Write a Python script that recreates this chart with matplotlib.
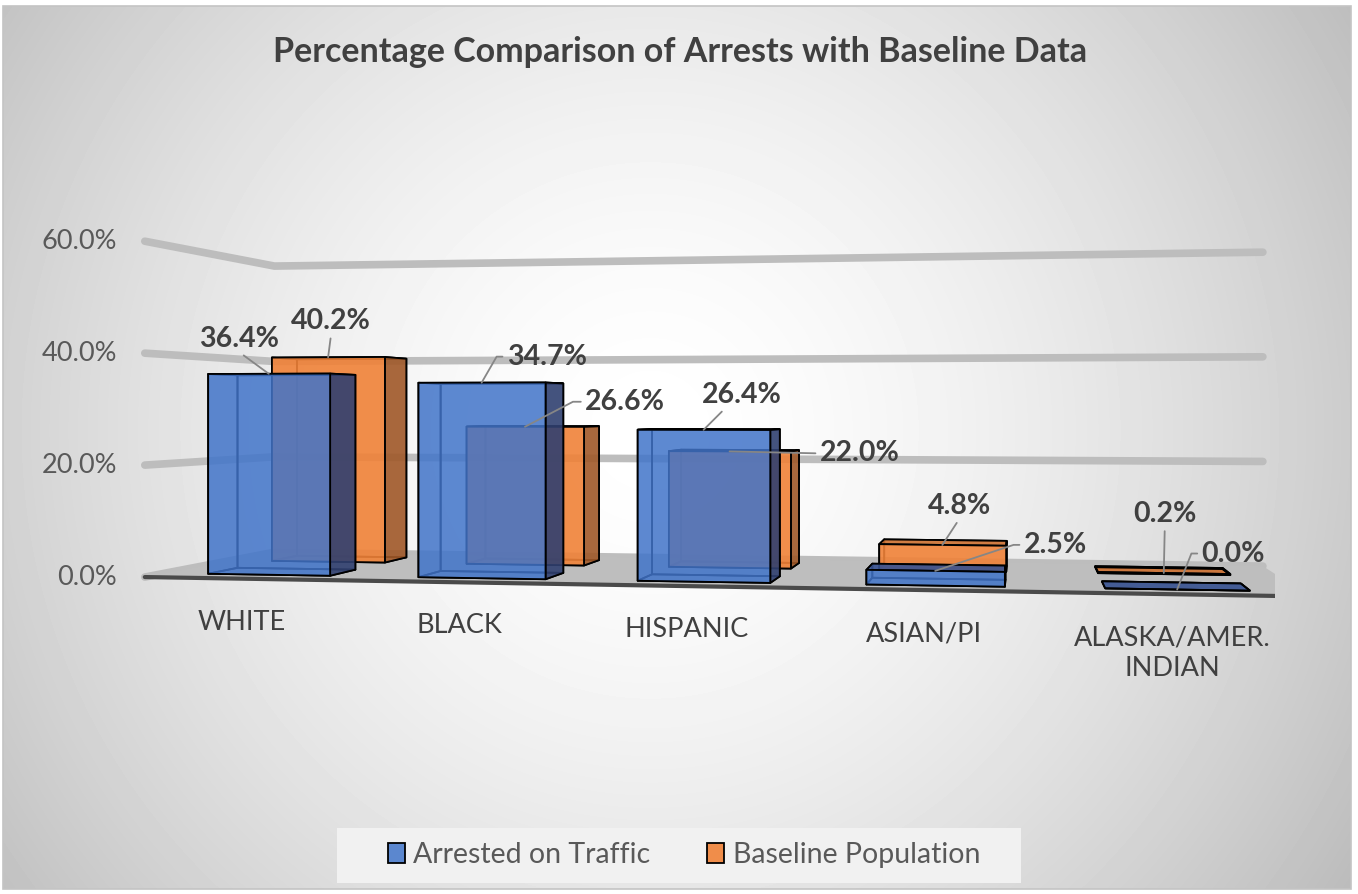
import numpy as np
import matplotlib
matplotlib.use("Agg")
import matplotlib.pyplot as plt
from matplotlib.patches import Patch, Rectangle
from mpl_toolkits.mplot3d.art3d import Poly3DCollection

# ---- data -------------------------------------------------------------
categories = ["WHITE", "BLACK", "HISPANIC", "ASIAN/PI", "ALASKA/AMER.\nINDIAN"]
arrested = [36.4, 34.7, 26.4, 2.5, 0.0]
baseline = [40.2, 26.6, 22.0, 4.8, 0.2]
series_names = ["Arrested on Traffic", "Baseline Population"]
z_ticks = [0, 20, 40, 60]
z_tick_labels = ["0.0%", "20.0%", "40.0%", "60.0%"]
title = "Percentage Comparison of Arrests with Baseline Data"

plt.rcParams["font.family"] = ["Lato", "DejaVu Sans"]

W, H, DPI = 1358, 894, 100
fig = plt.figure(figsize=(W / DPI, H / DPI), dpi=DPI)
fig.patch.set_facecolor("white")

# ---- radial gradient chart area ---------------------------------------
bg = fig.add_axes([0, 0, 1, 1], zorder=-10)
bg.set_axis_off()
fx0, fy0, fx1, fy1 = 3, 6, 1351, 889
yy, xx = np.mgrid[fy0:fy1, fx0:fx1]
r = np.hypot(xx - 650, yy - 430) / 760.0
shade = np.clip(255 - 58 * r ** 1.6, 0, 255) / 255.0
bg.imshow(shade, cmap="gray", vmin=0, vmax=1, aspect="auto",
          extent=(fx0, fx1, H - fy1, H - fy0), origin="upper",
          interpolation="bilinear")
bg.add_patch(Rectangle((fx0, H - fy1), fx1 - fx0, fy1 - fy0, fill=False,
                       edgecolor="#c4c4c4", lw=1.2))
# legend panel
bg.add_patch(Rectangle((337, H - 883), 684, 55, facecolor="#f1f1f1",
                       edgecolor="none"))
bg.set_xlim(0, W)
bg.set_ylim(0, H)

# ---- 3D scene ---------------------------------------------------------
ax = fig.add_axes([0.1030, -0.1096, 0.8358, 1.2696], projection="3d",
                  computed_zorder=False)
ax.set_facecolor("none")
ax.set_proj_type("persp", focal_length=0.29)
ax.view_init(elev=0, azim=-80.5, roll=0)
ax.set_box_aspect((1, 0.28, 0.30))
xmin, xmax = -0.5, len(categories) - 0.5
ymin, ymax = 0.0, 1.0
ax.set_xlim(xmin, xmax)
ax.set_ylim(ymin, ymax)
ax.set_zlim(0, 60)
ax.set_axis_off()

# wall gridlines (left wall + back wall)
for zt in z_ticks:
    ax.plot([xmin, xmin, xmax], [ymin, ymax, ymax], [zt, zt, zt],
            color="#bdbdbd", lw=5.5, solid_capstyle="round",
            solid_joinstyle="round", zorder=1)

# floor
floor = Poly3DCollection([[(xmin, ymin, 0), (xmax, ymin, 0),
                           (xmax, ymax, 0), (xmin, ymax, 0)]],
                         facecolor="#bebebe", edgecolor="none", zorder=2)
ax.add_collection3d(floor)
ax.plot([xmin, xmax], [ymin, ymin], [0, 0], color="#4a4a4a", lw=3.0,
        solid_capstyle="round", zorder=3)


def rgba(rgb, a):
    return (rgb[0] / 255, rgb[1] / 255, rgb[2] / 255, a)


bar_w = 0.585
bar_d = 0.22
rows = [0.25, 0.75]       # depth centre of each series row
styles = [
    dict(front=rgba((65, 116, 201), 0.85), side=rgba((48, 64, 112), 0.9),
         top=rgba((55, 82, 145), 0.9)),
    dict(front=rgba((240, 130, 56), 0.9), side=rgba((160, 88, 40), 0.9),
         top=rgba((205, 112, 48), 0.9)),
]
clear = (0, 0, 0, 0)
xs = np.arange(len(categories), dtype=float)

# back row first, then front row
for k in (1, 0):
    vals = np.array([arrested, baseline][k], dtype=float)
    st = styles[k]
    # bar3d face order: -z, +z, -y, +y, -x, +x
    face_cols = [clear, st["top"], st["front"], clear, clear, st["side"]] * len(vals)
    ax.bar3d(xs - bar_w / 2, np.full(len(vals), rows[k] - bar_d / 2),
             np.zeros(len(vals)), bar_w, bar_d, vals,
             color=face_cols, edgecolor="black", linewidth=1.3,
             shade=False, zorder=4 + (1 - k))

# ---- 2D annotation helpers -------------------------------------------
M = ax.get_proj()


def to2d(x, y, z):
    v = M @ np.array([x, y, z, 1.0])
    return v[0] / v[3], v[1] / v[3]


# axis tick labels at the front-left edge
for zt, lab in zip(z_ticks, z_tick_labels):
    ax.annotate(lab, to2d(xmin, ymin, zt), xytext=(-28, 0),
                textcoords="offset pixels", ha="right", va="center",
                fontsize=19.5, color="#595959", zorder=10)

# category labels under the floor front edge
for i, cat in enumerate(categories):
    ax.annotate(cat, to2d(i, ymin, 0), xytext=(-9, -31),
                textcoords="offset pixels", ha="center", va="top",
                multialignment="center", linespacing=1.3,
                fontsize=19.5, color="#404040", zorder=10)

# data labels: (dx, dy) pixel offsets, leader attachment, arm length
label_layout = [
    # Arrested on Traffic
    [((-30, 35), (0.5, 0.0), 0), ((65, 26), (0.0, 0.5), 10),
     ((38, 35), (0.3, 0.0), 0), ((120, 26), (0.0, 0.5), 10),
     ((56, 36), (0.0, 0.5), 10)],
    # Baseline Population
    [((3, 36), (0.5, 0.0), 0), ((100, 25), (0.0, 0.5), 12),
     ((130, -2), (0.0, 0.5), 0), ((17, 39), (0.5, 0.0), 0),
     ((1, 59), (0.5, 0.0), 0)],
]

for k in (0, 1):
    vals = [arrested, baseline][k]
    for i, v in enumerate(vals):
        (dx, dy), relpos, arm = label_layout[k][i]
        anchor = to2d(i, rows[k] - bar_d / 2, v)
        if arm:
            cstyle = f"arc,angleA=180,armA={arm},armB=0,rad=0"
        else:
            cstyle = "arc3,rad=0"
        ax.annotate(f"{v:.1f}%", anchor, xytext=(dx, dy),
                    textcoords="offset pixels", ha="center", va="center",
                    fontsize=20.5, fontweight="bold", color="#404040",
                    zorder=12,
                    arrowprops=dict(arrowstyle="-", color="#868686", lw=1.3,
                                    relpos=relpos, shrinkA=1, shrinkB=0,
                                    connectionstyle=cstyle))

# ---- title and legend -------------------------------------------------
fig.text(680 / W, 1 - 52 / H, title, ha="center", va="center",
         fontsize=24.5, fontweight="bold", color="#404040")

handles = [Patch(facecolor="#5b87cf", edgecolor="black", lw=1.3),
           Patch(facecolor="#f08d4a", edgecolor="black", lw=1.3)]
leg = fig.legend(handles, series_names, loc="center",
                 bbox_to_anchor=(684 / W, 1 - 855 / H), ncol=2,
                 frameon=False, fontsize=20.5, handlelength=0.6,
                 handleheight=0.7, handletextpad=0.3, columnspacing=2.0)
for t in leg.get_texts():
    t.set_color("#595959")

fig.savefig("out.png", dpi=DPI)
